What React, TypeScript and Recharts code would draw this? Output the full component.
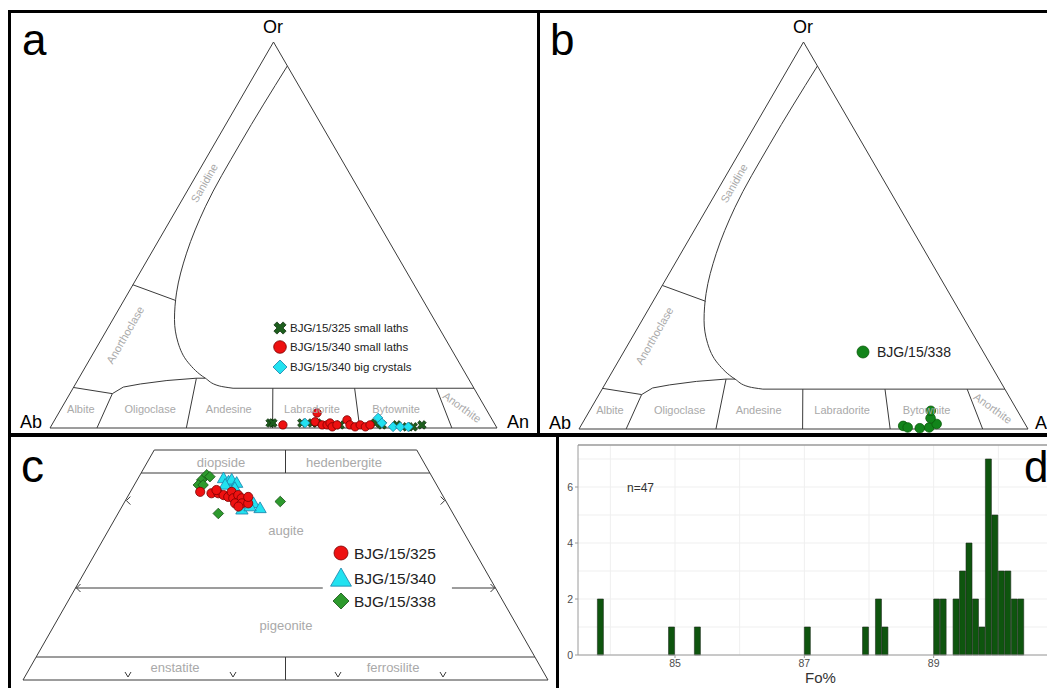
import React from 'react';
import { ScatterChart, Scatter, XAxis, YAxis, BarChart, Bar, CartesianGrid, ReferenceLine, Label } from 'recharts';

const FONT = '"Liberation Sans", Arial, Helvetica, sans-serif';

// ---------------- Panels a & b : feldspar ternary, points as [An %, Or %] ----------------
const feldsparOutline = [[0, 0], [100, 0], [0, 100], [0, 0]];
const sanidineCurve = [[6.2, 93.8], [5.7, 73.6], [6.1, 57.3], [7.9, 45.3], [10.8, 35.0], [13.8, 28.1], [17.6, 22.1], [22.5, 16.9], [28.3, 12.9], [32.4, 10.9], [35.8, 10.3]];
const or10Line = [[35.8, 10.3], [89.7, 10.3]];
const anorthoclaseSanidine = [[0, 37.1], [11.7, 33.0]];
const albiteTop = [[0, 10.5], [9.5, 8.9]];
const oligoclaseTop = [[28.3, 12.9], [26.3, 12.9], [20, 12.3], [14.5, 11.4], [11.1, 10.6], [9.5, 8.9]];
const albiteOligoclase = [[9.5, 8.9], [10.5, 0]];
const oligoclaseAndesine = [[26.3, 12.9], [30.5, 0]];
const andesineLabradorite = [[44.7, 10.3], [49.8, 0]];
const labradoriteBytownite = [[63.0, 10.3], [69.3, 0]];
const bytowniteAnorthite = [[81.3, 10.3], [89.9, 0]];

// panel a samples [An, Or]
const plag325Laths = [[48.6, 1.3], [49.2, 1.3], [55.7, 1.3], [58.0, 1.3], [59.1, 1.3], [64.5, 0.8], [72.1, 1.3], [73.9, 0.8], [77.2, 0.8], [79.7, 0.3], [81.1, 0.3], [82.8, 0.8]];
const plag340Laths = [[51.7, 0.8], [57.8, 3.9], [58.5, 1.6], [60.5, 0.8], [61.6, 0.8], [62.0, 1.3], [63.0, 0.3], [63.8, 0.8], [65.4, 2.1], [66.7, 0.8], [68.1, 0.3], [69.0, 0.8], [70.4, 0.3], [71.2, 0.8]];
const plag340Big = [[56.4, 1.3], [72.1, 2.6], [73.6, 1.3], [76.6, 0.3], [78.2, 0.3], [80.0, 0.3]];
// panel b sample
const plag338 = [[71.8, 0.8], [73.0, 0.4], [75.8, 0.2], [77.8, 0.4], [79.0, 1.3], [76.9, 2.8], [76.0, 4.7]];

// ---------------- Panel c : pyroxene quadrilateral, points as [Fs %, Wo %] ----------------
const pyxOutline = [[0, 0], [100, 0], [50, 50], [0, 50], [0, 0]];
const pyxWo45 = [[0, 45], [55, 45]];
const pyxTopDivider = [[25, 50], [27.5, 45]];
const pyxWo20Left = [[0, 20], [47.1, 20]];
const pyxWo20Right = [[71.7, 20], [80, 20]];
const pyxWo5 = [[0, 5], [95, 5]];
const pyxBottomDivider = [[50, 0], [47.5, 5]];
const pyxArrowsLeft = [[0, 20], [0, 39]];
const pyxArrowsRight = [[80, 20], [61, 39]];
const pyxTicks = [[20, 0], [40, 0], [60, 0], [80, 0]];

const cpx325 = [[13.3, 40.9], [15.6, 40.6], [16.9, 40.6], [18.1, 40.2], [19.2, 39.8], [19.3, 40.9], [20.3, 39.5], [20.9, 40.2], [21.9, 39.5], [21.2, 38.4], [22.5, 38.4], [23.7, 38.4], [22.2, 37.7], [23.0, 39.8], [16.2, 41.3]];
const cpx340 = [[16.3, 43.8], [17.6, 43.1], [18.0, 43.5], [17.3, 42.4], [19.3, 42.8], [24.7, 38.4], [26.5, 37.3], [23.2, 37.0], [24.4, 37.7], [19.5, 41.7]];
const cpx338 = [[12.3, 43.5], [12.7, 44.6], [13.5, 44.2], [12.2, 42.4], [13.1, 42.4], [19.1, 36.2], [29.6, 38.8]];

// ---------------- Panel d : olivine Fo% histogram ----------------
const foBinCenters = [83.85, 84.95, 85.35, 87.05, 87.95, 88.15, 88.25, 89.05, 89.15, 89.35, 89.45, 89.55, 89.65, 89.75, 89.85, 89.95, 90.05, 90.15, 90.25, 90.35];
const foCounts = [2, 1, 1, 1, 1, 2, 1, 2, 2, 2, 3, 4, 2, 1, 7, 5, 3, 3, 2, 2];
const foTicks = [85, 87, 89, 91];
const countTicks = [0, 2, 4, 6];
const foGrid = [84, 85, 86, 87, 88, 89, 90, 91];
const countGrid = [0, 1, 2, 3, 4, 5, 6, 7];
const olivineBins = foBinCenters.map((fo, i) => ({ fo, count: foCounts[i] }));

// ---------------- helpers ----------------
const tern = (p: number[]) => ({ x: p[0] + p[1] / 2, y: p[1] });

const PA = { left: 50, top: 42, w: 447, h: 386 };
const PB = { left: 579, top: 42, w: 449, h: 387 };
const PC = { left: 23, top: 450, w: 525, h: 230 };
const M = 12;

const Empty = () => <g />;
const Circ = ({ cx, cy, r, fill, stroke }: any) => <circle cx={cx} cy={cy} r={r} fill={fill} stroke={stroke} strokeWidth={0.8} />;
const Diam = ({ cx, cy, r, fill, stroke }: any) => (
  <polygon points={`${cx},${cy - r} ${cx + r},${cy} ${cx},${cy + r} ${cx - r},${cy}`} fill={fill} stroke={stroke} strokeWidth={0.8} />
);
const Tri = ({ cx, cy, r, fill, stroke }: any) => (
  <polygon points={`${cx},${cy - r} ${cx + r * 0.95},${cy + r * 0.65} ${cx - r * 0.95},${cy + r * 0.65}`} fill={fill} stroke={stroke} strokeWidth={0.8} />
);
const XMark = ({ cx, cy, r, fill, stroke }: any) => {
  const a = r * 0.33;
  const pts = [[-a, -r], [a, -r], [a, -a], [r, -a], [r, a], [a, a], [a, r], [-a, r], [-a, a], [-r, a], [-r, -a], [-a, -a]]
    .map((p) => p.join(',')).join(' ');
  return <polygon transform={`translate(${cx},${cy}) rotate(45)`} points={pts} fill={fill} stroke={stroke} strokeWidth={0.7} />;
};

const RED = { fill: '#ee1111', stroke: '#7a0000' };
const CYAN = { fill: '#22e2f0', stroke: '#1b7fa8' };
const GREEN_D = { fill: '#2d9a2d', stroke: '#155015' };
const GREEN_X = { fill: '#1d5e1d', stroke: '#0c2c0c' };
const GREEN_B = { fill: '#12841a', stroke: '#0a5a0a' };
const LINE = '#3a3a3a';

const feldLines = [
  { pts: feldsparOutline, curve: 'linear' },
  { pts: sanidineCurve, curve: 'monotoneY' },
  { pts: or10Line, curve: 'linear' },
  { pts: anorthoclaseSanidine, curve: 'linear' },
  { pts: albiteTop, curve: 'linear' },
  { pts: oligoclaseTop, curve: 'linear' },
  { pts: albiteOligoclase, curve: 'linear' },
  { pts: oligoclaseAndesine, curve: 'linear' },
  { pts: andesineLabradorite, curve: 'linear' },
  { pts: labradoriteBytownite, curve: 'linear' },
  { pts: bytowniteAnorthite, curve: 'linear' },
];
const pyxLines = [pyxOutline, pyxWo45, pyxTopDivider, pyxWo20Left, pyxWo20Right, pyxWo5, pyxBottomDivider];

function TernaryChart({ pan, yMax, lines, children }: any) {
  return (
    <div style={{ position: 'absolute', left: pan.left - M - 8, top: pan.top - M - 8 }}>
      <ScatterChart width={pan.w + 2 * M} height={pan.h + 2 * M} margin={{ top: M, right: M, bottom: M, left: M }}>
        <XAxis type="number" dataKey="x" domain={[0, 100]} hide />
        <YAxis type="number" dataKey="y" domain={[0, yMax]} hide />
        {lines.map((ln: any, i: number) => (
          <Scatter
            key={'ln' + i}
            data={ln.pts.map(tern)}
            line={{ stroke: LINE, strokeWidth: 1 }}
            lineJointType={ln.curve}
            shape={Empty}
            fill={LINE}
            isAnimationActive={false}
          />
        ))}
        {children}
      </ScatterChart>
    </div>
  );
}

const fieldLabels = [
  { t: 'Albite', x: 6.9, y: 4.9, rot: 0 },
  { t: 'Oligoclase', x: 22.4, y: 4.9, rot: 0 },
  { t: 'Andesine', x: 40.0, y: 4.9, rot: 0 },
  { t: 'Labradorite', x: 58.6, y: 4.9, rot: 0 },
  { t: 'Bytownite', x: 77.4, y: 4.9, rot: 0 },
  { t: 'Anorthite', x: 92.2, y: 5.4, rot: 36 },
  { t: 'Sanidine', x: 34.5, y: 63.5, rot: -60 },
  { t: 'Anorthoclase', x: 16.8, y: 24.1, rot: -60 },
];

function FieldTexts({ pan, k }: any) {
  return (
    <g>
      {fieldLabels.map((f) => {
        const px = pan.left + (f.x / 100) * pan.w;
        const py = pan.top + pan.h - (f.y / 100) * pan.h;
        return (
          <text key={k + f.t} x={px} y={py} fontSize={11} fill="#a9a9a9" textAnchor="middle" dominantBaseline="central"
            transform={f.rot ? `rotate(${f.rot} ${px} ${py})` : undefined}>{f.t}</text>
        );
      })}
    </g>
  );
}

function Overlay() {
  return (
    <svg width={1055} height={688} style={{ position: 'absolute', left: -8, top: -8, pointerEvents: 'none', fontFamily: FONT }}>
      {/* frame */}
      <rect x={8} y={10} width={1047} height={3} fill="#000" />
      <rect x={8} y={10} width={3} height={678} fill="#000" />
      <rect x={8} y={433} width={1047} height={4} fill="#000" />
      <rect x={537} y={10} width={3} height={425} fill="#000" />
      <rect x={556} y={433} width={3} height={255} fill="#000" />

      {/* panel letters */}
      <text x={22} y={55} fontSize={44}>a</text>
      <text x={550} y={55} fontSize={44}>b</text>
      <text x={21} y={482} fontSize={46}>c</text>
      <text x={1024} y={482} fontSize={44}>d</text>

      {/* panel a */}
      <text x={273} y={33} fontSize={18} textAnchor="middle">Or</text>
      <text x={42} y={428} fontSize={18} textAnchor="end">Ab</text>
      <text x={507} y={428} fontSize={18}>An</text>
      <FieldTexts pan={PA} k="a" />
      <XMark cx={280} cy={328} r={6.5} {...GREEN_X} />
      <Circ cx={280} cy={347} r={6.3} {...RED} />
      <Diam cx={280} cy={367} r={7} {...CYAN} />
      <text x={290} y={332} fontSize={11.5} fill="#222">BJG/15/325 small laths</text>
      <text x={290} y={351} fontSize={11.5} fill="#222">BJG/15/340 small laths</text>
      <text x={290} y={371} fontSize={11.5} fill="#222">BJG/15/340 big crystals</text>

      {/* panel b */}
      <text x={803} y={33} fontSize={18} textAnchor="middle">Or</text>
      <text x={571} y={429} fontSize={18} textAnchor="end">Ab</text>
      <text x={1035} y={429} fontSize={18}>An</text>
      <FieldTexts pan={PB} k="b" />
      <Circ cx={863} cy={352} r={6} {...GREEN_B} />
      <text x={877} y={357} fontSize={14} fill="#222">BJG/15/338</text>

      {/* panel c */}
      <text x={221} y={462} fontSize={13} fill="#a9a9a9" textAnchor="middle" dominantBaseline="central">diopside</text>
      <text x={344} y={462} fontSize={13} fill="#a9a9a9" textAnchor="middle" dominantBaseline="central">hedenbergite</text>
      <text x={286} y={530} fontSize={13} fill="#a9a9a9" textAnchor="middle" dominantBaseline="central">augite</text>
      <text x={286} y={625} fontSize={13} fill="#a9a9a9" textAnchor="middle" dominantBaseline="central">pigeonite</text>
      <text x={175} y={667} fontSize={13} fill="#a9a9a9" textAnchor="middle" dominantBaseline="central">enstatite</text>
      <text x={393} y={667} fontSize={13} fill="#a9a9a9" textAnchor="middle" dominantBaseline="central">ferrosilite</text>
      <Circ cx={341} cy={553} r={7} {...RED} />
      <Tri cx={341} cy={579} r={11} {...CYAN} />
      <Diam cx={341} cy={601} r={8} {...GREEN_D} />
      <text x={354} y={559} fontSize={15.5} fill="#222">BJG/15/325</text>
      <text x={354} y={584} fontSize={15.5} fill="#222">BJG/15/340</text>
      <text x={354} y={607} fontSize={15.5} fill="#222">BJG/15/338</text>

      {/* panel d */}
      <text x={627} y={492} fontSize={12} fill="#333">n=47</text>
    </svg>
  );
}

const arrowLeft = (p: any) => <path d={`M ${p.cx + 5} ${p.cy - 4} L ${p.cx + 1} ${p.cy} L ${p.cx + 5} ${p.cy + 4}`} fill="none" stroke={LINE} strokeWidth={1} />;
const arrowRight = (p: any) => <path d={`M ${p.cx - 5} ${p.cy - 4} L ${p.cx - 1} ${p.cy} L ${p.cx - 5} ${p.cy + 4}`} fill="none" stroke={LINE} strokeWidth={1} />;
const tickV = (p: any) => <path d={`M ${p.cx - 3} ${p.cy - 8} L ${p.cx} ${p.cy - 3} L ${p.cx + 3} ${p.cy - 8}`} fill="none" stroke={LINE} strokeWidth={1} />;

export default function App() {
  return (
    <div style={{ position: 'relative', width: 1047, height: 680, overflow: 'hidden', background: '#fff', fontFamily: FONT }}>
      {/* panel a */}
      <TernaryChart pan={PA} yMax={100} lines={feldLines}>
        <Scatter data={plag325Laths.map(tern)} shape={(p: any) => <XMark cx={p.cx} cy={p.cy} r={4.6} {...GREEN_X} />} isAnimationActive={false} />
        <Scatter data={plag340Laths.map(tern)} shape={(p: any) => <Circ cx={p.cx} cy={p.cy} r={4.2} {...RED} />} isAnimationActive={false} />
        <Scatter data={plag340Big.map(tern)} shape={(p: any) => <Diam cx={p.cx} cy={p.cy} r={4.8} {...CYAN} />} isAnimationActive={false} />
      </TernaryChart>

      {/* panel b */}
      <TernaryChart pan={PB} yMax={100} lines={feldLines}>
        <Scatter data={plag338.map(tern)} shape={(p: any) => <Circ cx={p.cx} cy={p.cy} r={4.8} {...GREEN_B} />} isAnimationActive={false} />
      </TernaryChart>

      {/* panel c */}
      <TernaryChart pan={PC} yMax={50} lines={pyxLines.map((pts) => ({ pts, curve: 'linear' }))}>
        <Scatter data={pyxArrowsLeft.map(tern)} shape={arrowLeft} isAnimationActive={false} />
        <Scatter data={pyxArrowsRight.map(tern)} shape={arrowRight} isAnimationActive={false} />
        <Scatter data={pyxTicks.map(tern)} shape={tickV} isAnimationActive={false} />
        <Scatter data={cpx338.map(tern)} shape={(p: any) => <Diam cx={p.cx} cy={p.cy} r={5.3} {...GREEN_D} />} isAnimationActive={false} />
        <Scatter data={cpx340.map(tern)} shape={(p: any) => <Tri cx={p.cx} cy={p.cy} r={6.5} {...CYAN} />} isAnimationActive={false} />
        <Scatter data={cpx325.map(tern)} shape={(p: any) => <Circ cx={p.cx} cy={p.cy} r={4.6} {...RED} />} isAnimationActive={false} />
      </TernaryChart>

      {/* panel d */}
      <div style={{ position: 'absolute', left: 560 - 8, top: 437 - 8 }}>
        <BarChart width={513} height={258} data={olivineBins} margin={{ top: 8, right: 10, bottom: 0, left: 0 }} barCategoryGap={0} barGap={0}>
          <CartesianGrid stroke="#efefef" verticalValues={foGrid} horizontalValues={countGrid} />
          <XAxis type="number" dataKey="fo" domain={[83.5, 91]} ticks={foTicks} tick={{ fontSize: 10.5, fill: '#4d4d4d' }}
            tickSize={3} stroke="#9a9a9a" height={40} padding={{ left: 0, right: 0 }}>
            <Label value="Fo%" position="insideBottom" offset={12} style={{ fontSize: 15, fill: '#333' }} />
          </XAxis>
          <YAxis type="number" domain={[0, 7.5]} ticks={countTicks} width={18} tickSize={3}
            tick={{ fontSize: 10.5, fill: '#4d4d4d' }} stroke="#9a9a9a" />
          <ReferenceLine y={7.5} stroke="#9a9a9a" strokeWidth={1.5} />
          <Bar dataKey="count" fill="#0e550e" stroke="#1e2e1e" strokeWidth={0.6} isAnimationActive={false} />
        </BarChart>
      </div>

      <Overlay />
    </div>
  );
}
